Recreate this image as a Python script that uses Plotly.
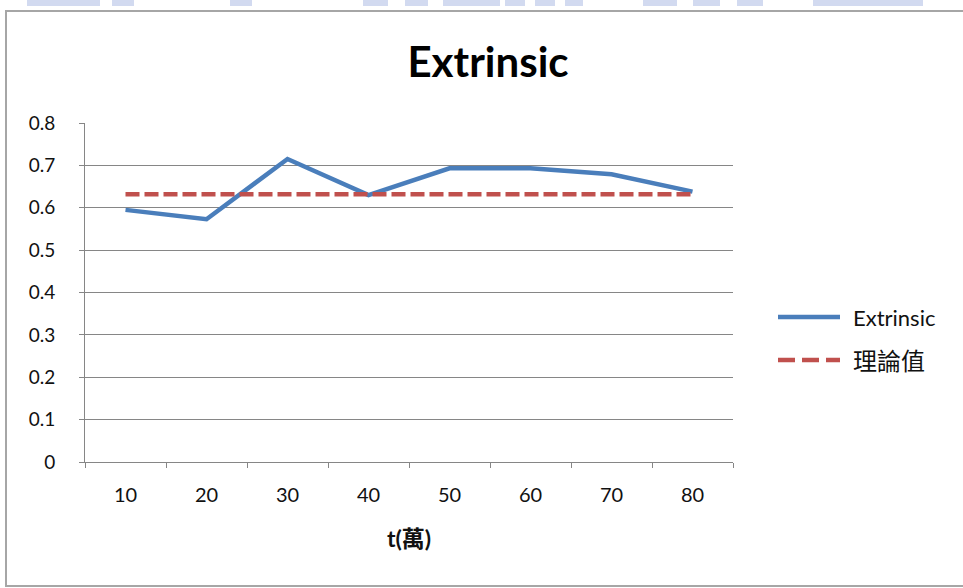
import plotly.graph_objects as go

# Sampling points (in units of 10,000) and measured extrinsic values
t_labels = ["10", "20", "30", "40", "50", "60", "70", "80"]
extrinsic = [0.595, 0.573, 0.715, 0.630, 0.693, 0.693, 0.679, 0.638]
theory_value = 0.632
theory = [theory_value] * len(t_labels)

y_ticks = [0, 0.1, 0.2, 0.3, 0.4, 0.5, 0.6, 0.7, 0.8]

W, H = 963, 588
L, R, T, B = 85, 230, 123, 126
plot_w, plot_h = W - L - R, H - T - B

FONT = "Lato, 'Noto Sans CJK TC', sans-serif"
BLUE = "#4A7EBB"
RED = "#C0504D"
GRID = "#868686"


def px_x(px):
    return (px - L) / plot_w


def px_y(py):
    return (H - B - py) / plot_h


fig = go.Figure()
fig.add_trace(go.Scatter(x=t_labels, y=extrinsic, mode="lines", name="Extrinsic",
                         line=dict(color=BLUE, width=4.5), showlegend=False))
fig.add_trace(go.Scatter(x=t_labels, y=theory, mode="lines", name="理論值",
                         line=dict(color=RED, width=4.5, dash="14px,5px"), showlegend=False))

shapes = []
# faint banner strip along the very top edge
strip = [(27, 100), (112, 134), (230, 252), (363, 388), (405, 428), (443, 500),
         (505, 525), (535, 555), (565, 583), (643, 677), (693, 720), (737, 763),
         (813, 923)]
for a, b in strip:
    shapes.append(dict(type="rect", xref="paper", yref="paper",
                       x0=px_x(a), x1=px_x(b), y0=px_y(6), y1=px_y(-2),
                       line=dict(width=0), fillcolor="#D2DAF0", layer="below"))
# chart frame
shapes.append(dict(type="rect", xref="paper", yref="paper",
                   x0=px_x(6), x1=px_x(1000), y0=px_y(586), y1=px_y(11),
                   line=dict(color="#A6A6A6", width=2), layer="below"))

# legend entries drawn in the right margin
legend_items = [("Extrinsic", BLUE, "solid", 317, 22),
                ("理論值", RED, "17px,7px", 360, 24)]
annotations = []
for label, color, dash, py, fs in legend_items:
    shapes.append(dict(type="line", xref="paper", yref="paper",
                       x0=px_x(778), x1=px_x(840), y0=px_y(py), y1=px_y(py),
                       line=dict(color=color, width=4.5, dash=dash)))
    annotations.append(dict(text=label, xref="paper", yref="paper",
                            x=px_x(851), y=px_y(py), xanchor="left", yanchor="middle",
                            showarrow=False, font=dict(family=FONT, size=fs, color="#111")))

annotations.append(dict(text="<b>t(萬)</b>", xref="paper", yref="paper",
                        x=0.5, y=px_y(538), xanchor="center", yanchor="middle",
                        showarrow=False, font=dict(family=FONT, size=23, color="#111")))

fig.update_layout(
    width=W, height=H,
    margin=dict(l=L, r=R, t=T, b=B),
    paper_bgcolor="white", plot_bgcolor="white",
    title=dict(text="<b>Extrinsic</b>", x=488 / W, xref="container", xanchor="center",
               y=1 - 62 / H, yref="container", yanchor="middle",
               font=dict(family=FONT, size=42, color="#000")),
    font=dict(family=FONT, size=17, color="#111"),
    shapes=shapes, annotations=annotations,
    xaxis=dict(type="category", tickson="boundaries", ticks="outside", ticklen=5,
               tickcolor=GRID, showline=True, linecolor=GRID, linewidth=1,
               showgrid=False, ticklabelstandoff=15, range=[-0.5, 7.5],
               tickfont=dict(family=FONT, size=20, color="#111")),
    yaxis=dict(range=[0, 0.8], tickvals=y_ticks, ticks="outside", ticklen=5,
               tickcolor=GRID, showline=True, linecolor=GRID, linewidth=1,
               showgrid=True, gridcolor=GRID, gridwidth=1, zeroline=False,
               ticklabelstandoff=20,
               tickfont=dict(family=FONT, size=19, color="#111")),
)

fig.write_html("out.html")
